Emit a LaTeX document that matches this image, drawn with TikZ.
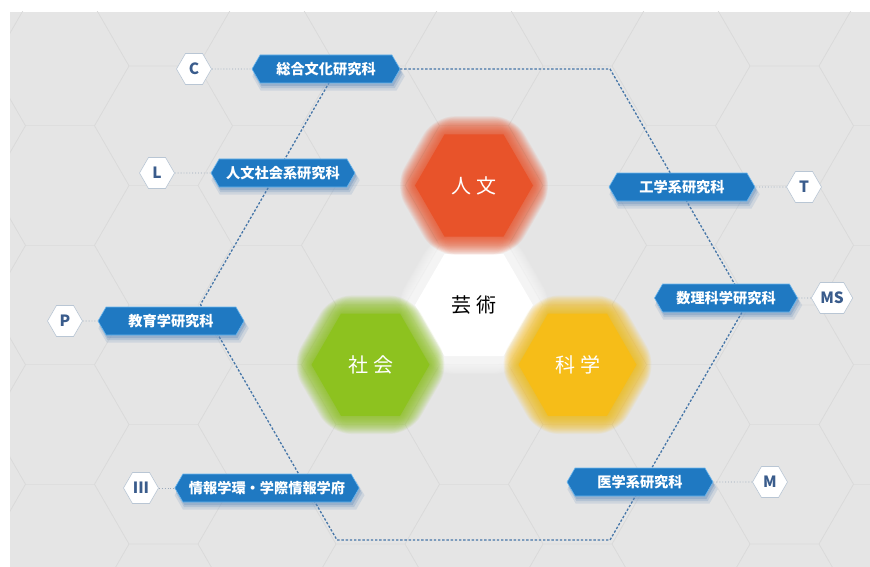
\documentclass[tikz,border=0pt]{standalone}
\usepackage{fontspec}
\newfontfamily\jp{Noto Sans CJK JP}
\usetikzlibrary{shapes.symbols,shapes.geometric,shadows}
\definecolor{bgc}{HTML}{E5E5E5}
\definecolor{gridc}{HTML}{DADADA}
\definecolor{labblue}{HTML}{1F79C2}
\definecolor{labedge}{HTML}{6AB6EE}
\definecolor{shadc}{HTML}{5A86B8}
\definecolor{dotc}{HTML}{4676A8}
\definecolor{conc}{HTML}{9AA9BA}
\definecolor{badgec}{HTML}{3A5C8C}
\definecolor{badgeedge}{HTML}{B9C6D4}
\definecolor{orangec}{HTML}{E8532A}
\definecolor{greenc}{HTML}{8DC21F}
\definecolor{yellowc}{HTML}{F6BD18}
\newcommand{\softhex}[4]{%
  \foreach \r in {80,79,...,58}{%
    \pgfmathsetmacro\rc{max(0.5,(\r-57)*0.9)}%
    \fill[#3,opacity=#4,shift={(#1,#2)},rounded corners=\rc pt] (0:\r) -- (60:\r) -- (120:\r) -- (180:\r) -- (240:\r) -- (300:\r) -- cycle;}}
\tikzset{
  lab/.style={signal, signal to=east and west, signal pointer angle=120,
    fill=labblue, draw=labedge, line width=0.6pt, text=white,
    font=\jp\bfseries\fontsize{14.2}{15}\selectfont,
    minimum height=28, inner xsep=6pt, inner ysep=0pt,
    general shadow={fill=shadc, opacity=0.16, shadow xshift=2.5pt, shadow yshift=-7pt, shadow scale=1.03},
    general shadow={fill=shadc, opacity=0.22, shadow xshift=2pt, shadow yshift=-5pt, shadow scale=1.01},
    general shadow={fill=shadc, opacity=0.3, shadow xshift=1.5pt, shadow yshift=-3pt}},
  badge/.style={signal, signal to=east and west, signal pointer angle=120,
    fill=white, draw=badgeedge, line width=0.6pt, text=badgec,
    font=\jp\bfseries\fontsize{15.5}{16}\selectfont, minimum height=31, minimum width=35, inner sep=0pt},
  conn/.style={conc, line width=0.9pt, dotted},
  bigline/.style={dotc, line width=1.3pt, dash pattern=on 2.4pt off 1.8pt},
  hexcore/.style={regular polygon, regular polygon sides=6, minimum size=118,
    inner sep=0pt, font=\jp\fontsize{20}{20}\selectfont},
}
\begin{document}
\begin{tikzpicture}[x=1pt,y=-1pt]
\useasboundingbox (0,0) rectangle (870,567);
\fill[white] (0,0) rectangle (870,567);
\fill[bgc] (10,12) rectangle (870,567);
% background honeycomb
\begin{scope}
\clip (10,12) rectangle (870,567);
\foreach \m in {-5,...,5}{\foreach \k in {-9,...,9}{%
  \pgfmathsetmacro\cx{474+103.5*\m}%
  \pgfmathsetmacro\cy{305+59.75*\m+119.5*\k}%
  \draw[gridc, line width=0.45pt, shift={(\cx,\cy)}] (0:69) -- (60:69) -- (120:69) -- (180:69) -- (240:69) -- (300:69) -- cycle;
}}
\end{scope}
% central hexagons
\softhex{474}{305}{white}{0.09}
\node[hexcore, fill=white, text=black] (geijutsu) at (474,305) {芸\hspace{5pt}術};
\softhex{474}{185.5}{orangec}{0.075}
\node[hexcore, fill=orangec, text=white] (jinbun) at (474,185.5) {人\hspace{5pt}文};
\softhex{370.5}{364.75}{greenc}{0.075}
\node[hexcore, fill=greenc, text=white] (shakai) at (370.5,364.75) {社\hspace{5pt}会};
\softhex{577.5}{364.75}{yellowc}{0.075}
\node[hexcore, fill=yellowc, text=white] (kagaku) at (577.5,364.75) {科\hspace{5pt}学};
% large dotted hexagon
\coordinate (h1) at (337,69);
\coordinate (h2) at (610,69);
\coordinate (h3) at (746.5,304.5);
\coordinate (h4) at (610,540);
\coordinate (h5) at (337,540);
\coordinate (h6) at (200.5,304.5);
\draw[bigline] (h1) -- (h2) -- (h3) -- (h4) -- (h5) -- (h6) -- cycle;
% labels
\node[lab, minimum width=148] (l1) at (326,69) {総合文化研究科};
\node[lab, minimum width=144] (l2) at (283,173) {人文社会系研究科};
\node[lab, minimum width=146] (l3) at (171,321) {教育学研究科};
\node[lab, minimum width=184] (l4) at (267,488) {情報学環・学際情報学府};
\node[lab, minimum width=146] (l5) at (682,187) {工学系研究科};
\node[lab, minimum width=143] (l6) at (726,298) {数理科学研究科};
\node[lab, minimum width=146] (l7) at (640,482) {医学系研究科};
% badges
\node[badge] (bC) at (194,69) {C};
\node[badge] (bL) at (157,173) {L};
\node[badge] (bP) at (65,321) {P};
\node[badge] (bIII) at (141,488) {III};
\node[badge] (bT) at (804,187) {T};
\node[badge, minimum width=39] (bMS) at (832,298) {MS};
\node[badge] (bM) at (770,482) {M};
% connectors
\draw[conn] (bC) -- (l1);
\draw[conn] (bL) -- (l2);
\draw[conn] (bP) -- (l3);
\draw[conn] (bIII) -- (l4);
\draw[conn] (bT) -- (l5);
\draw[conn] (bMS) -- (l6);
\draw[conn] (bM) -- (l7);
\end{tikzpicture}
\end{document}
